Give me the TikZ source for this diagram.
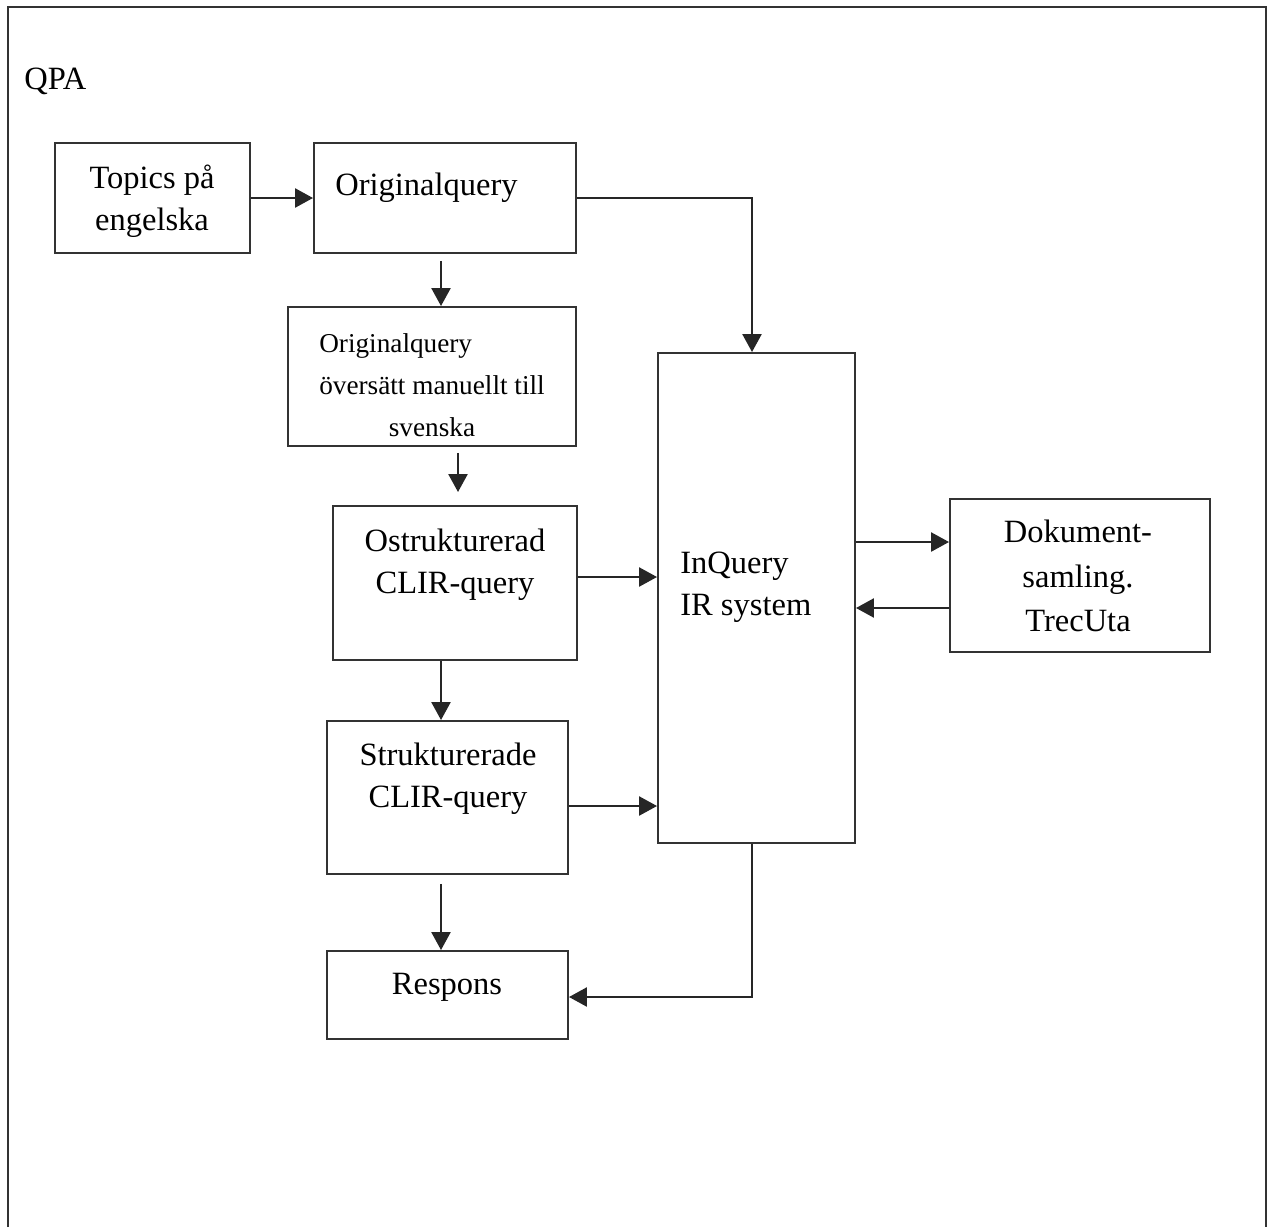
\documentclass[tikz,border=0pt]{standalone}
\usepackage{fontspec}
\setmainfont{Liberation Serif}
\usepackage{tikz}
\usetikzlibrary{arrows.meta, fit, positioning}
\tikzstyle{block} = [rectangle, draw=black!80, line width=1.1pt, inner sep=0pt]
\tikzstyle{txt} = [align=center, font=\fontsize{18.5}{24}\selectfont, inner sep=0pt]
\tikzstyle{smalltxt} = [font=\fontsize{15.5}{24}\selectfont, inner sep=0pt]
\tikzstyle{arrow} = [line width=1.4pt, draw=black!85, -{Triangle[length=0.36cm, width=0.38cm]}]

\begin{document}
\begin{tikzpicture}[x=0.02cm, y=-0.02cm]
	\useasboundingbox (0,0) rectangle (1273,1227);
	% outer frame, open at the bottom
	\draw[line width=1.1pt, black!80] (8,1227) -- (8,7) -- (1266,7) -- (1266,1227);
	\node (QPA) [txt, anchor=west] at (24,81) {QPA};

	% boxes
	\node (Topics) [block, fit={(55,143) (250,253)}] {};
	\node (Orig) [block, fit={(314,143) (576,253)}] {};
	\node (Trans) [block, fit={(288,307) (576,446)}] {};
	\node (Ostr) [block, fit={(333,506) (577,660)}] {};
	\node (Strukt) [block, fit={(327,721) (568,874)}] {};
	\node (Respons) [block, fit={(327,951) (568,1039)}] {};
	\node (InQuery) [block, fit={(658,353) (855,843)}] {};
	\node (Dok) [block, fit={(950,499) (1210,652)}] {};

	% texts
	\node (TopicsText) [txt] at (152,201) {Topics på\\engelska};
	\node (OrigText) [txt, anchor=west] at (335,188) {Originalquery};
	\node (TransText) [smalltxt] at (432,386) {\begin{tabular}{@{}l@{}}Originalquery\\översätt manuellt till\\\multicolumn{1}{@{}c@{}}{svenska}\end{tabular}};
	\node (OstrText) [txt] at (455,565) {Ostrukturerad\\CLIR-query};
	\node (StruktText) [txt] at (448,779) {Strukturerade\\CLIR-query};
	\node (ResponsText) [txt] at (447,987) {Respons};
	\node (InQueryText) [txt, align=left, anchor=west] at (680,587) {InQuery\\IR system};
	\node (DokText) [txt, font=\fontsize{18.5}{25.5}\selectfont] at (1078,576) {Dokument-\\samling.\\TrecUta};

	% connectors
	\draw [arrow] (Topics) -- (Orig);
	\draw [arrow] ([xshift=-0.08cm, yshift=-0.14cm]Orig.south) -- ([xshift=-0.08cm]Orig.south |- Trans.north);
	\draw [arrow] ([xshift=0.06cm, yshift=-0.12cm]Trans.south -| Ostr.north) -- ([xshift=0.06cm, yshift=0.26cm]Ostr.north);
	\draw [arrow] ([xshift=-0.13cm]Ostr.south -| Strukt.north) -- ([xshift=-0.13cm]Strukt.north);
	\draw [arrow] ([xshift=-0.13cm, yshift=-0.18cm]Strukt.south) -- ([xshift=-0.13cm]Respons.north);
	\draw [arrow] (Orig.east) -| ([xshift=-0.09cm]InQuery.north);
	\draw [arrow] ([yshift=0.12cm]Ostr.east) -- ([yshift=0.12cm]Ostr.east -| InQuery.west);
	\draw [arrow] ([yshift=-0.17cm]Strukt.east) -- ([yshift=-0.17cm]Strukt.east -| InQuery.west);
	\draw [arrow] ([xshift=-0.09cm]InQuery.south) |- ([yshift=-0.04cm]Respons.east);
	\draw [arrow] ([yshift=0.67cm]Dok.west -| InQuery.east) -- ([yshift=0.67cm]Dok.west);
	\draw [arrow] ([yshift=-0.65cm]Dok.west) -- ([yshift=-0.65cm]Dok.west -| InQuery.east);
\end{tikzpicture}
\end{document}
